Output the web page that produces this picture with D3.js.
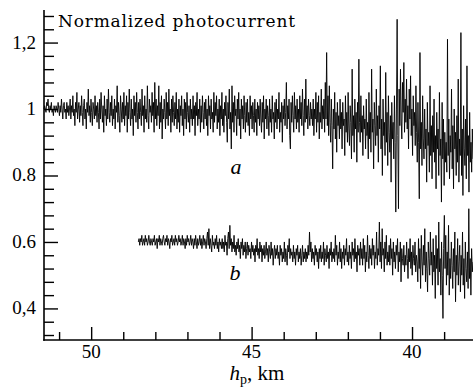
<!DOCTYPE html>
<html>
<head>
<meta charset="utf-8">
<script src="https://cdn.jsdelivr.net/npm/d3@7"></script>
<style>
  body { margin: 0; background: #fff; }
  svg { display: block; }
  text { font-family: "Liberation Serif", "Times New Roman", serif; fill: #000; }
</style>
</head>
<body>
<div id="chart"></div>
<script>
// Altitude range of the two records (samples are evenly spaced in hp)
const hpStartA = 51.47;
const hpStartB = 48.53;
const hpEnd = 38.1;

const curveA = [
  1.00,1.01,1.00,0.99,1.02,1.01,1.03,1.00,0.99,1.01,1.00,1.02,0.99,1.00,0.98,1.01,1.00,0.99,1.01,1.00,
  0.99,1.02,1.00,0.98,1.01,0.99,1.03,1.00,0.97,1.01,1.02,0.99,1.00,0.97,1.02,0.99,1.01,0.98,1.00,1.03,
  0.97,1.01,0.99,1.04,0.98,1.00,0.95,1.02,0.99,1.05,0.97,1.00,1.02,0.96,1.01,0.98,1.04,0.99,0.95,1.01,
  1.03,0.97,1.00,0.94,1.02,0.99,1.06,0.98,1.01,0.96,1.03,0.99,0.95,1.02,1.00,0.97,1.04,0.98,1.01,0.96,
  1.02,0.99,0.94,1.03,0.97,1.05,1.00,0.96,1.01,0.93,1.04,0.98,1.00,0.95,1.03,0.97,1.06,0.99,0.96,1.02,
  0.98,1.04,0.95,1.00,0.97,1.03,0.94,1.01,0.99,1.07,0.96,1.02,0.98,0.93,1.04,1.00,0.96,1.02,0.97,1.05,
  0.95,1.01,0.98,1.04,0.93,1.02,0.97,1.06,0.99,0.95,1.03,0.97,1.00,0.92,1.04,0.98,1.02,0.96,1.05,0.99,
  0.94,1.02,0.97,1.03,0.99,0.95,1.06,0.98,1.01,0.93,1.04,0.97,1.00,0.96,1.07,0.98,0.94,1.03,0.99,1.01,
  0.96,1.05,0.98,1.02,0.93,1.08,0.97,1.03,0.95,1.01,0.98,1.07,0.94,1.02,0.96,1.04,0.91,1.00,0.97,1.03,
  0.99,0.94,1.05,0.97,1.02,0.95,1.06,0.98,1.00,0.93,1.03,0.96,1.04,0.99,0.95,1.02,0.97,1.05,0.94,1.00,
  0.96,1.03,0.93,1.01,0.98,1.04,0.95,1.00,0.92,1.03,0.97,1.02,0.94,1.05,0.99,0.96,1.01,0.93,1.03,0.97,
  1.00,0.95,1.04,0.97,1.01,0.92,1.02,0.98,1.05,0.95,1.00,0.97,1.03,0.93,1.01,0.96,1.04,0.99,0.94,1.02,
  0.97,1.03,0.95,1.00,0.92,1.04,0.98,1.01,0.94,1.03,0.97,0.99,0.93,1.05,0.96,1.02,0.98,1.04,0.94,1.00,
  0.96,1.03,0.92,1.01,0.97,1.05,0.95,1.00,0.93,1.02,0.98,1.04,0.96,0.90,1.02,0.97,1.06,0.94,0.99,0.88,
  1.07,0.96,1.02,0.93,1.04,0.98,1.00,0.92,1.03,0.97,1.05,0.95,1.00,0.91,1.03,0.97,1.01,0.94,1.04,0.98,
  0.93,1.02,0.96,1.03,0.95,0.99,0.92,1.04,0.97,1.01,0.94,1.02,0.98,0.93,1.03,0.96,1.00,0.92,1.02,0.97,
  1.01,0.95,1.03,0.97,0.93,1.02,0.96,1.04,0.91,1.00,0.97,1.03,0.94,1.01,0.98,0.92,1.03,0.96,1.00,0.93,
  1.04,0.97,0.99,0.91,1.02,0.96,1.03,0.94,1.00,0.97,1.05,0.93,0.99,0.96,1.02,0.90,1.01,0.97,1.03,0.95,
  0.99,1.08,0.94,1.01,0.97,1.03,0.92,0.88,1.02,0.96,1.04,0.98,0.93,1.05,0.97,1.01,0.94,1.03,0.96,1.00,
  0.93,1.04,0.97,1.02,0.95,1.06,0.98,0.92,1.03,0.96,1.09,0.97,1.01,0.94,1.03,0.98,0.95,1.02,0.97,1.00,
  0.95,1.03,0.92,1.00,0.97,1.05,0.93,1.02,0.96,1.04,0.91,0.99,0.96,1.06,0.94,1.01,0.97,1.03,0.93,1.08,
  0.97,1.17,0.95,1.04,0.92,1.07,0.96,0.90,1.03,0.95,0.82,1.00,0.94,1.05,0.91,0.99,0.87,1.02,0.95,0.98,
  0.91,1.03,0.94,0.99,0.88,1.02,0.95,0.97,0.86,1.04,0.93,0.99,0.90,1.05,0.94,0.89,1.01,0.96,0.85,1.12,
  0.92,0.98,0.87,1.03,0.94,0.99,0.84,1.02,0.93,1.15,0.96,0.90,1.04,0.93,0.98,0.86,1.01,0.94,0.97,0.88,
  1.03,0.92,0.96,0.85,1.05,0.91,0.99,0.87,1.12,0.93,0.97,0.82,1.02,0.95,0.89,1.06,0.92,0.98,0.84,1.01,
  0.94,1.13,0.88,0.97,0.80,1.03,0.92,0.96,0.86,1.11,0.90,0.99,0.83,1.04,0.93,0.87,0.98,0.78,1.02,0.91,
  0.96,0.85,1.04,0.90,0.69,1.00,1.27,0.92,0.70,1.06,0.95,1.12,0.97,0.91,1.08,0.99,1.14,0.93,1.03,0.96,
  1.09,0.94,1.01,0.88,1.06,0.97,1.10,0.92,1.00,0.86,1.04,0.95,0.99,0.89,1.07,0.93,0.84,1.02,0.90,0.73,
  1.17,0.88,0.96,0.83,1.04,0.91,0.85,1.00,0.88,0.94,0.78,1.02,0.89,0.93,0.81,1.07,0.86,0.95,0.79,0.98,
  0.87,1.03,0.84,0.92,0.76,0.99,0.88,0.94,0.80,1.05,0.86,0.91,0.72,1.02,0.85,0.97,0.77,0.93,0.84,0.90,
  0.81,1.21,0.86,0.97,0.79,0.92,0.87,1.06,0.82,0.95,0.76,1.00,0.88,0.93,0.80,0.98,0.84,1.09,0.78,0.91,
  0.86,1.23,0.80,0.94,0.74,1.01,0.88,0.83,0.97,0.79,1.13,0.86,0.92,0.75,0.99,0.84,0.90,0.81,0.94,0.85
];

// curve b, starts at lower altitude
const curveB = [
  0.60,0.61,0.59,0.61,0.60,0.62,0.59,0.60,0.61,0.59,0.62,0.60,0.61,0.59,0.60,0.62,0.60,0.59,0.61,0.60,
  0.59,0.61,0.60,0.62,0.59,0.60,0.61,0.58,0.61,0.60,0.62,0.59,0.61,0.60,0.59,0.61,0.62,0.60,0.59,0.61,
  0.60,0.62,0.59,0.61,0.60,0.58,0.61,0.60,0.62,0.59,0.60,0.61,0.59,0.62,0.60,0.61,0.59,0.60,0.62,0.60,
  0.61,0.59,0.60,0.62,0.59,0.61,0.60,0.58,0.61,0.59,0.62,0.60,0.61,0.59,0.60,0.62,0.59,0.61,0.60,0.58,
  0.61,0.59,0.62,0.60,0.58,0.61,0.59,0.60,0.62,0.59,0.61,0.58,0.60,0.62,0.59,0.61,0.60,0.58,0.61,0.63,
  0.59,0.64,0.58,0.61,0.59,0.57,0.62,0.59,0.60,0.58,0.61,0.59,0.62,0.58,0.60,0.57,0.61,0.59,0.60,0.58,
  0.61,0.58,0.60,0.57,0.62,0.59,0.60,0.56,0.61,0.63,0.58,0.65,0.59,0.61,0.57,0.60,0.58,0.62,0.57,0.59,
  0.56,0.60,0.58,0.61,0.57,0.59,0.55,0.60,0.58,0.61,0.56,0.59,0.57,0.60,0.55,0.58,0.60,0.56,0.59,0.57,
  0.58,0.55,0.60,0.57,0.59,0.56,0.58,0.54,0.59,0.57,0.61,0.56,0.58,0.55,0.60,0.57,0.59,0.54,0.58,0.56,
  0.59,0.55,0.57,0.60,0.56,0.58,0.54,0.59,0.57,0.55,0.60,0.56,0.58,0.53,0.57,0.59,0.55,0.58,0.56,0.59,
  0.55,0.57,0.53,0.59,0.56,0.58,0.54,0.57,0.55,0.60,0.54,0.58,0.56,0.53,0.59,0.57,0.61,0.55,0.58,0.56,
  0.57,0.54,0.59,0.55,0.57,0.53,0.58,0.56,0.59,0.54,0.57,0.55,0.58,0.53,0.56,0.59,0.54,0.57,0.55,0.58,
  0.54,0.57,0.55,0.59,0.56,0.63,0.57,0.60,0.54,0.58,0.55,0.57,0.53,0.59,0.56,0.58,0.54,0.57,0.52,0.58,
  0.55,0.59,0.54,0.57,0.55,0.60,0.53,0.58,0.56,0.54,0.59,0.55,0.57,0.52,0.58,0.56,0.60,0.54,0.57,0.55,
  0.58,0.54,0.62,0.56,0.59,0.53,0.57,0.55,0.60,0.54,0.58,0.52,0.57,0.55,0.59,0.53,0.58,0.56,0.61,0.54,
  0.57,0.53,0.59,0.55,0.57,0.52,0.60,0.56,0.58,0.54,0.61,0.55,0.57,0.51,0.59,0.56,0.58,0.53,0.60,0.55,
  0.58,0.53,0.61,0.55,0.59,0.51,0.57,0.54,0.62,0.56,0.52,0.59,0.55,0.58,0.53,0.61,0.56,0.59,0.52,0.57,
  0.55,0.63,0.53,0.58,0.56,0.66,0.54,0.60,0.52,0.64,0.56,0.58,0.51,0.60,0.55,0.62,0.53,0.57,0.54,0.59,
  0.53,0.61,0.55,0.58,0.50,0.60,0.54,0.57,0.52,0.59,0.56,0.61,0.51,0.57,0.54,0.60,0.48,0.58,0.55,0.53,
  0.59,0.51,0.56,0.53,0.60,0.55,0.49,0.58,0.54,0.61,0.52,0.57,0.50,0.59,0.55,0.53,0.60,0.51,0.56,0.54,
  0.48,0.61,0.52,0.58,0.46,0.62,0.54,0.50,0.59,0.53,0.64,0.48,0.57,0.52,0.45,0.60,0.55,0.50,0.63,0.53,
  0.57,0.47,0.61,0.51,0.56,0.43,0.62,0.52,0.58,0.47,0.66,0.51,0.55,0.44,0.60,0.50,0.37,0.58,0.68,0.52,
  0.62,0.47,0.57,0.50,0.65,0.44,0.55,0.49,0.60,0.53,0.46,0.58,0.51,0.63,0.42,0.56,0.50,0.61,0.47,0.54,
  0.59,0.45,0.56,0.50,0.63,0.47,0.55,0.43,0.60,0.52,0.48,0.57,0.46,0.70,0.49,0.55,0.44,0.58,0.51,0.54
];

const xMajorTicks = [50, 45, 40];
const xMinorTicks = [51, 49, 48, 47, 46, 44, 43, 42, 41, 39];
const yMajorTicks = [0.4, 0.6, 0.8, 1, 1.2];
const yTickLabels = ["0,4", "0.6", "0.8", "1", "1,2"];
const yMinorTicks = [0.32, 0.36, 0.44, 0.48, 0.52, 0.56, 0.64, 0.68, 0.72, 0.76,
                     0.84, 0.88, 0.92, 0.96, 1.04, 1.08, 1.12, 1.16, 1.24, 1.28];

const width = 473, height = 388;
const plotLeft = 44, plotRight = 473, plotTop = 10, plotBottom = 340;

const svg = d3.select('#chart').append('svg')
  .attr('width', width)
  .attr('height', height);

const x = d3.scaleLinear().domain([51.47, 38.1]).range([plotLeft, plotRight]);
const y = d3.scaleLinear().domain([0.305, 1.298]).range([plotBottom, plotTop]);

// put each reading on the evenly spaced altitude grid
function withHp(values, hp0) {
  const step = (hpEnd - hp0) / (values.length - 1);
  return values.map((v, i) => ({ hp: hp0 + i * step, v }));
}

const line = d3.line().x(d => x(d.hp)).y(d => y(d.v));

[curveA, curveB].forEach((values, k) => {
  svg.append('path')
    .datum(withHp(values, k === 0 ? hpStartA : hpStartB))
    .attr('d', line)
    .attr('fill', 'none')
    .attr('stroke', '#000')
    .attr('stroke-width', 0.9);
});

// x axis, ticks point up into the plot
const xAxisMajor = d3.axisTop(x).tickValues(xMajorTicks).tickSize(13).tickFormat('');
const xAxisMinor = d3.axisTop(x).tickValues(xMinorTicks).tickSize(8).tickFormat('');
[xAxisMajor, xAxisMinor].forEach(ax => {
  const g = svg.append('g').attr('transform', `translate(0,${plotBottom})`).call(ax);
  g.select('.domain').remove();
  g.selectAll('line').attr('stroke', '#000').attr('stroke-width', 1.4);
});

// y axis, ticks point right
const yAxisMajor = d3.axisRight(y).tickValues(yMajorTicks).tickSize(14).tickFormat('');
const yAxisMinor = d3.axisRight(y).tickValues(yMinorTicks).tickSize(10).tickFormat('');
[yAxisMajor, yAxisMinor].forEach(ax => {
  const g = svg.append('g').attr('transform', `translate(${plotLeft},0)`).call(ax);
  g.select('.domain').remove();
  g.selectAll('line').attr('stroke', '#000').attr('stroke-width', 1.4);
});

// axis lines
svg.append('line')
  .attr('x1', plotLeft).attr('x2', plotLeft).attr('y1', plotTop).attr('y2', plotBottom + 0.8)
  .attr('stroke', '#000').attr('stroke-width', 1.6);
svg.append('line')
  .attr('x1', plotLeft - 0.8).attr('x2', plotRight).attr('y1', plotBottom).attr('y2', plotBottom)
  .attr('stroke', '#000').attr('stroke-width', 1.6);

// tick labels
svg.append('g').selectAll('text')
  .data(xMajorTicks)
  .join('text')
  .attr('x', d => x(d))
  .attr('y', 358)
  .attr('text-anchor', 'middle')
  .style('font-size', '19px')
  .text(d => d);

svg.append('g').selectAll('text')
  .data(yMajorTicks)
  .join('text')
  .attr('x', 36)
  .attr('y', d => y(d) + 6)
  .attr('text-anchor', 'end')
  .style('font-size', '19px')
  .text((d, i) => yTickLabels[i]);

// title
svg.append('text')
  .attr('x', 58)
  .attr('y', 27)
  .style('font-family', '"DejaVu Serif", serif')
  .style('font-size', '17px')
  .attr('textLength', 237)
  .attr('lengthAdjust', 'spacing')
  .text('Normalized photocurrent');

// curve labels
svg.append('text')
  .attr('x', 236).attr('y', 174)
  .attr('text-anchor', 'middle')
  .style('font-size', '22px')
  .style('font-style', 'italic')
  .text('a');
svg.append('text')
  .attr('x', 235).attr('y', 280)
  .attr('text-anchor', 'middle')
  .style('font-size', '22px')
  .style('font-style', 'italic')
  .text('b');

// x axis label: h_p, km
const xl = svg.append('text')
  .attr('x', 257).attr('y', 380)
  .attr('text-anchor', 'middle')
  .style('font-size', '21px');
xl.append('tspan').style('font-style', 'italic').text('h');
xl.append('tspan').attr('dy', 4).style('font-size', '14px').text('p');
xl.append('tspan').attr('dy', -4).text(',\u00a0km');
</script>
</body>
</html>
